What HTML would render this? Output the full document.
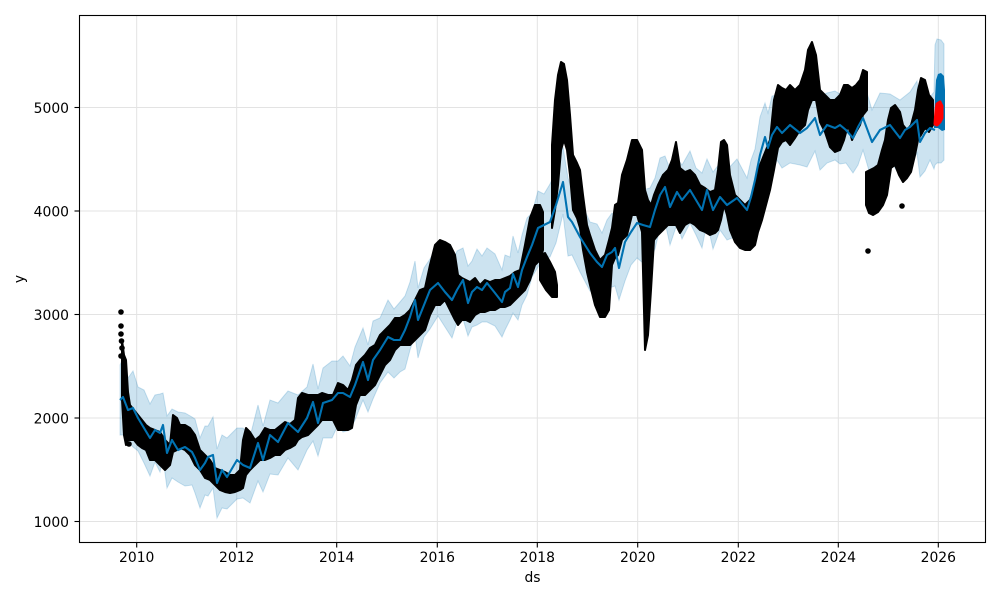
<!DOCTYPE html>
<html><head><meta charset="utf-8"><style>
html,body{margin:0;padding:0;background:#fff;}
svg{display:block;}
text{font-family:"DejaVu Sans","Liberation Sans",sans-serif;font-size:13.9px;fill:#000;}
</style></head><body>
<svg width="1000" height="600" viewBox="0 0 1000 600" xmlns="http://www.w3.org/2000/svg">
<rect x="0" y="0" width="1000" height="600" fill="#fff"/>
<!-- grid -->
<g stroke="#e3e3e3" stroke-width="1">
<line x1="136.7" y1="15.5" x2="136.7" y2="542"/>
<line x1="236.7" y1="15.5" x2="236.7" y2="542"/>
<line x1="336.7" y1="15.5" x2="336.7" y2="542"/>
<line x1="437.3" y1="15.5" x2="437.3" y2="542"/>
<line x1="537.3" y1="15.5" x2="537.3" y2="542"/>
<line x1="637.7" y1="15.5" x2="637.7" y2="542"/>
<line x1="738.3" y1="15.5" x2="738.3" y2="542"/>
<line x1="838.3" y1="15.5" x2="838.3" y2="542"/>
<line x1="938.3" y1="15.5" x2="938.3" y2="542"/>
<line x1="79.5" y1="521.5" x2="985.5" y2="521.5"/>
<line x1="79.5" y1="418" x2="985.5" y2="418"/>
<line x1="79.5" y1="314.5" x2="985.5" y2="314.5"/>
<line x1="79.5" y1="211" x2="985.5" y2="211"/>
<line x1="79.5" y1="107.5" x2="985.5" y2="107.5"/>
</g>
<!-- uncertainty band -->
<polygon fill="#0072B2" fill-opacity="0.2" stroke="#0072B2" stroke-opacity="0.2" stroke-width="1" points="120,365 123,358 128,378 133,371 138,387 144,390 150,404 155,395 160,394 163,393 167,416 172,409 178,412 185,413 192,417 195,419 200,438 205,426 208,426 213,417 217,449 222,435 227,438 237,428 243,428 250,437 258,405 263,426 270,400 278,403 288,391 298,395 307,387 313,364 318,389 323,368 332,361 338,361 343,356 350,366 355,347 363,328 368,345 373,321 380,318 388,300 394,309 400,302 405,296 410,282 415,261 418,288 424,268 430,259 438,245 445,258 452,265 457,251 463,248 468,266 472,261 477,249 482,256 487,248 495,254 502,270 505,255 510,257 513,236 518,253 522,235 527,218 532,213 538,191 544,194 550,184 556,171 563,147 568,178 572,190 580,200 590,222 597,224 602,233 607,220 612,213 615,216 619,231 625,211 631,194 637,189 643,190 650,188 655,178 660,158 665,156 670,169 677,158 682,165 690,151 696,168 702,173 707,159 713,172 720,163 727,170 737,159 747,178 751,160 755,149 760,117 765,103 768,113 772,96 777,95 782,96 790,94 800,95 807,94 815,83 820,96 827,93 835,91 840,94 846,92 853,104 858,92 863,79 872,110 880,93 890,94 900,100 905,96 910,92 917,81 920,110 925,96 930,97 934,92 935,45 937,39 941,40 944,44 944,160 941,163 937,163 935,165 934,169 930,160 925,171 920,177 917,153 910,166 905,162 900,176 890,160 880,163 872,181 863,150 858,165 853,173 846,163 840,164 835,160 827,163 820,170 815,151 807,167 800,165 790,163 782,168 777,160 772,174 768,180 765,175 760,190 755,213 751,236 747,242 737,236 727,240 720,230 713,249 707,222 702,248 696,235 690,223 682,239 677,224 670,245 665,222 660,228 655,249 650,259 643,263 637,258 631,265 625,281 619,300 615,286 612,287 607,288 602,306 597,294 590,291 580,272 572,255 568,256 563,214 556,243 550,257 544,258 538,267 532,277 527,295 522,305 518,320 513,313 510,320 505,330 502,337 495,326 487,322 482,322 477,325 472,327 468,336 463,319 457,322 452,338 445,327 438,316 430,329 424,337 418,358 415,335 410,350 405,369 400,372 394,378 388,372 380,383 373,399 368,412 363,400 355,420 350,430 343,432 338,425 332,438 323,438 318,456 313,441 307,450 298,470 288,458 278,475 270,474 263,492 258,481 250,503 243,498 237,499 227,509 222,508 217,518 213,488 208,496 205,495 200,508 195,493 192,485 185,486 178,482 172,478 167,488 163,458 160,472 155,462 150,476 144,463 138,451 133,447 128,442 123,435 120,435"/>
<!-- data points -->
<g fill="#000" stroke="#000" stroke-width="2" stroke-linejoin="round">
<polygon points="122,340 124,355 126,360 128,392 130,405 134,410 138,415 142,420 146,425 150,428 155,430 160,432 165,440 170,445 173,415 177,418 180,425 185,425 190,428 195,435 200,450 205,455 210,460 215,468 220,470 225,472 230,475 235,475 240,470 243,440 246,428 250,432 255,440 260,436 265,428 270,430 275,430 280,426 285,422 290,424 295,420 298,398 302,393 308,395 313,395 318,395 322,393 328,395 333,395 338,383 343,385 348,390 352,380 356,365 360,360 365,355 370,348 375,345 380,335 385,330 390,325 395,318 400,318 405,315 410,310 415,300 420,290 425,288 430,265 435,245 440,240 445,242 450,245 455,255 458,275 462,278 466,280 470,282 475,278 480,285 485,280 490,282 495,280 500,280 505,278 510,276 515,272 520,270 525,245 530,218 535,205 540,205 543,212 543,250 540,260 535,265 530,280 525,290 520,295 515,300 510,305 505,307 500,307 495,310 490,310 485,312 480,312 475,315 470,322 466,320 462,320 458,325 455,320 450,310 445,300 440,305 435,305 430,315 425,330 420,335 415,340 410,345 405,345 400,345 395,350 390,360 385,365 380,375 375,385 370,390 365,395 360,395 356,405 352,428 348,430 343,430 338,430 333,420 328,420 322,420 318,425 313,430 308,435 302,437 298,440 295,445 290,448 285,450 280,455 275,455 270,458 265,460 260,460 255,465 250,470 246,475 243,488 240,490 235,492 230,493 225,492 220,490 215,485 210,480 205,478 200,470 195,465 190,455 185,450 180,448 177,450 173,452 170,465 165,470 160,465 155,460 150,460 146,450 142,448 138,445 134,440 130,440 128,440 126,445 124,435 122,400"/>
<polygon points="540,255 545,253 550,262 555,272 557,285 557,297 552,297 546,290 540,280"/>
<polygon points="552,145 555,100 558,75 561,62 564,64 567,80 570,115 573,155 577,163 580,170 583,195 587,225 590,235 595,250 600,260 605,255 609,240 612,228 615,205 618,203 622,175 627,160 632,140 637,140 642,150 645,190 648,200 651,205 654,195 658,185 663,175 668,170 672,160 676,142 680,168 685,172 690,170 695,175 700,185 705,188 710,192 715,190 718,170 721,142 724,140 727,145 730,175 735,195 740,200 745,205 750,200 755,185 758,170 762,160 766,150 770,140 774,100 778,85 782,88 786,90 790,85 795,90 800,85 805,70 808,50 812,42 816,55 820,90 825,95 830,100 835,100 840,95 844,85 848,85 852,88 856,85 860,80 863,70 867,72 867,110 863,115 860,125 856,132 852,140 848,125 844,140 840,150 835,152 830,147 825,132 820,122 816,100 812,100 808,110 805,125 800,130 795,138 790,145 786,140 782,142 778,148 774,170 770,190 766,205 762,220 758,232 755,245 750,250 745,250 740,248 735,242 730,230 727,215 724,205 721,220 718,230 715,233 710,235 705,232 700,230 695,225 690,222 685,225 680,233 676,225 672,225 668,225 663,230 658,235 654,240 651,290 648,335 645,350 642,232 637,215 632,215 627,235 622,240 618,255 615,258 612,265 609,310 605,317 600,317 595,305 590,285 587,272 583,250 580,228 577,218 573,210 570,175 567,150 564,140 561,150 558,185 555,210 552,228"/>
<polygon points="866,172 870,170 874,168 878,165 882,150 885,140 888,120 891,108 895,105 900,112 903,125 907,130 911,125 915,110 918,90 921,78 925,80 929,95 933,100 933,125 929,132 925,128 921,135 918,140 915,155 911,172 907,178 903,182 899,175 895,165 891,168 887,195 883,205 878,212 873,215 869,213 866,205"/>
</g>
<g fill="#000">
<circle cx="121" cy="312" r="2.8"/><circle cx="121" cy="326" r="2.8"/><circle cx="121" cy="334" r="2.8"/><circle cx="121.5" cy="341" r="2.8"/><circle cx="122" cy="348" r="2.8"/><circle cx="121" cy="356" r="2.8"/>
<circle cx="129" cy="444" r="2.8"/><circle cx="868" cy="251" r="2.8"/><circle cx="902" cy="206" r="2.8"/>
</g>
<!-- forecast line -->
<polyline fill="none" stroke="#0072B2" stroke-width="2.1" stroke-linejoin="round" points="120,400 123,397 128,410 133,408 138,418 144,428 150,438 155,430 160,433 163,425 167,453 172,440 178,450 185,447 192,452 195,458 200,470 205,463 208,457 213,455 217,483 222,470 227,477 237,460 243,465 250,468 258,443 263,460 270,435 278,442 288,423 298,432 307,418 313,402 318,423 323,403 332,400 338,393 343,393 350,397 355,385 363,362 368,380 373,360 380,350 388,337 394,340 400,340 405,330 410,317 415,300 418,320 424,305 430,290 438,283 445,292 452,300 457,290 463,280 468,303 472,292 477,287 482,290 487,283 495,293 502,302 505,292 510,288 513,274 518,287 522,270 527,257 532,245 538,228 544,225 550,222 556,205 563,182 568,217 572,222 580,237 590,253 597,262 602,267 607,255 612,252 615,248 619,268 625,242 631,232 637,223 643,225 650,227 655,210 660,195 665,187 670,207 677,192 682,200 690,190 696,200 702,210 707,190 713,210 720,197 727,205 737,198 747,210 751,197 755,180 760,155 765,137 768,148 772,135 777,127 782,133 790,125 800,133 807,128 815,118 820,135 827,125 835,128 840,125 846,130 853,138 858,127 863,118 872,142 880,130 890,125 900,138 905,130 910,127 917,120 920,142 925,133 930,128 935,130"/>
<polygon fill="#0072B2" points="934,128 935,98 936,80 938,74 941,73 944,76 945,90 945,130 942,131 938,128"/>
<!-- red test points -->
<polygon fill="#ff0000" stroke="#ff0000" stroke-width="3" stroke-linejoin="round" points="935,124 936,110 937,104 940,102 942,106 942,118 940,122 937,125"/>
<!-- axes frame -->
<rect x="79.5" y="15.5" width="906" height="527" fill="none" stroke="#000" stroke-width="1.1"/>
<!-- ticks -->
<g stroke="#000" stroke-width="1.1">
<line x1="136.7" y1="542.5" x2="136.7" y2="547.5"/>
<line x1="236.7" y1="542.5" x2="236.7" y2="547.5"/>
<line x1="336.7" y1="542.5" x2="336.7" y2="547.5"/>
<line x1="437.3" y1="542.5" x2="437.3" y2="547.5"/>
<line x1="537.3" y1="542.5" x2="537.3" y2="547.5"/>
<line x1="637.7" y1="542.5" x2="637.7" y2="547.5"/>
<line x1="738.3" y1="542.5" x2="738.3" y2="547.5"/>
<line x1="838.3" y1="542.5" x2="838.3" y2="547.5"/>
<line x1="938.3" y1="542.5" x2="938.3" y2="547.5"/>
<line x1="74.5" y1="521.5" x2="79.5" y2="521.5"/>
<line x1="74.5" y1="418" x2="79.5" y2="418"/>
<line x1="74.5" y1="314.5" x2="79.5" y2="314.5"/>
<line x1="74.5" y1="211" x2="79.5" y2="211"/>
<line x1="74.5" y1="107.5" x2="79.5" y2="107.5"/>
</g>
<g text-anchor="middle">
<text x="136.7" y="562">2010</text>
<text x="236.7" y="562">2012</text>
<text x="336.7" y="562">2014</text>
<text x="437.3" y="562">2016</text>
<text x="537.3" y="562">2018</text>
<text x="637.7" y="562">2020</text>
<text x="738.3" y="562">2022</text>
<text x="838.3" y="562">2024</text>
<text x="938.3" y="562">2026</text>
</g>
<g text-anchor="end">
<text x="69" y="527">1000</text>
<text x="69" y="423.5">2000</text>
<text x="69" y="320">3000</text>
<text x="69" y="216.5">4000</text>
<text x="69" y="113">5000</text>
</g>
<text x="532.5" y="582" text-anchor="middle">ds</text>
<text transform="translate(24,279) rotate(-90)" text-anchor="middle">y</text>
</svg>
</body></html>
